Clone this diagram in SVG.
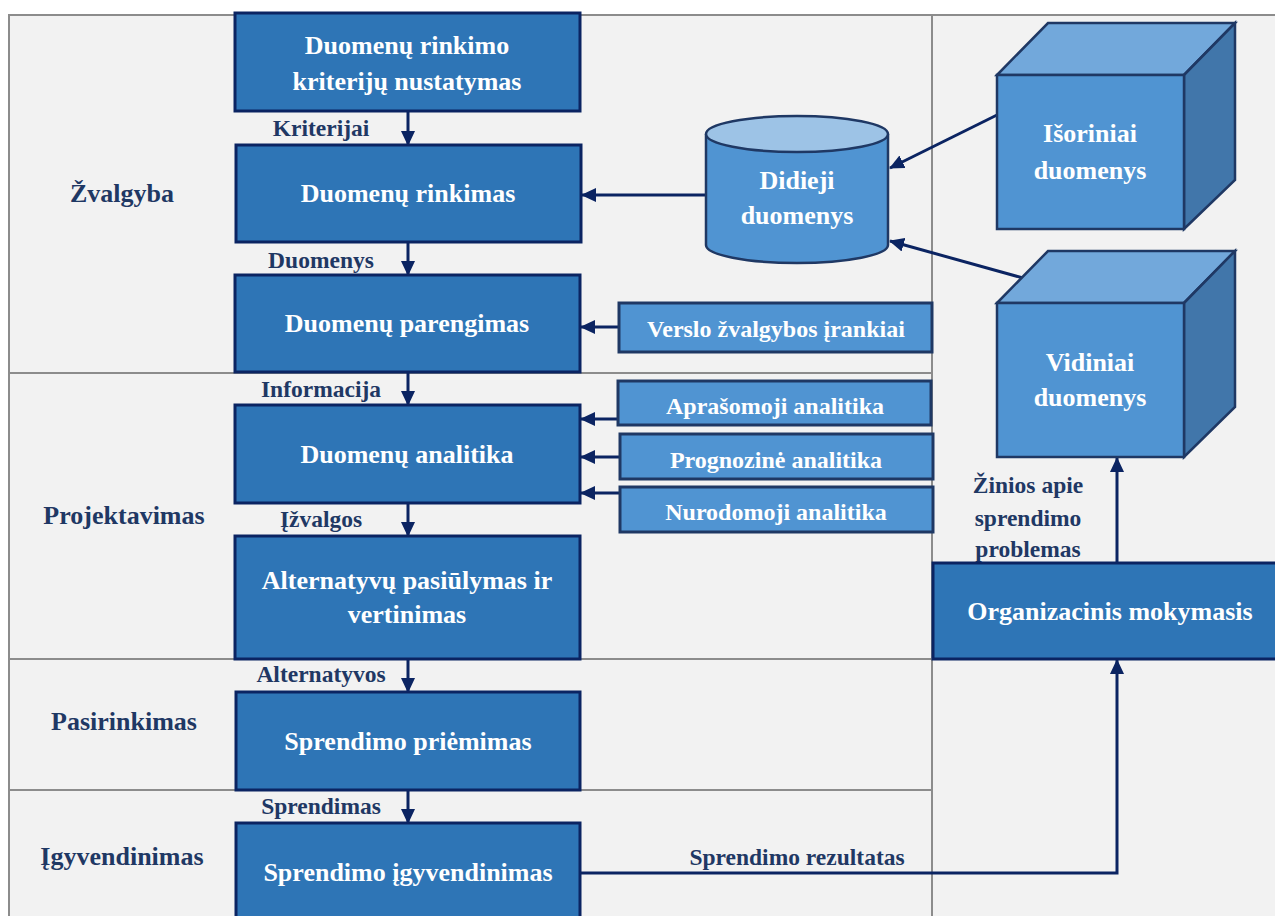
<svg xmlns="http://www.w3.org/2000/svg" width="1275" height="916" viewBox="0 0 1275 916">
<style>
text{font-family:"Liberation Serif","Times New Roman",serif;font-weight:bold;text-anchor:middle}
.wt{fill:#ffffff;font-size:26px}
.st{fill:#ffffff;font-size:24px}
.lb{fill:#1f3864;font-size:23.5px}
.ln{fill:#1f3864;font-size:26px}
.main{fill:#2e75b6;stroke:#0b2462;stroke-width:3}
.small{fill:#5094d2;stroke:#1f3864;stroke-width:3}
.cf{fill:#5094d2;stroke:#1f3864;stroke-width:2.5}
.ct{fill:#72a8db;stroke:#1f3864;stroke-width:2.5}
.cs{fill:#4176aa;stroke:#1f3864;stroke-width:2.5}
.con{stroke:#0b2462;stroke-width:3;fill:none}
.grid{stroke:#8c8c8c;stroke-width:2;fill:none}
</style>
<defs>
<marker id="ah" markerWidth="15" markerHeight="14" refX="14" refY="7" orient="auto" markerUnits="userSpaceOnUse">
<path d="M0,0 L15,7 L0,14 z" fill="#0b2462"/>
</marker>
</defs>
<rect x="0" y="0" width="1275" height="916" fill="#ffffff"/>
<g id="lanes">
<rect x="9" y="15" width="1266" height="901" fill="#f2f2f2"/>
<path class="grid" d="M9,916 V15 H1275"/>
<path class="grid" d="M9,373 H932 M9,659 H932 M9,790 H932 M932,15 V916"/>
<text class="ln" x="122" y="202">Žvalgyba</text>
<text class="ln" x="124" y="524">Projektavimas</text>
<text class="ln" x="124" y="730">Pasirinkimas</text>
<text class="ln" x="122" y="865">Įgyvendinimas</text>
</g>
<g id="connectors">
<line class="con" x1="408" y1="111" x2="408" y2="145" marker-end="url(#ah)"/>
<line class="con" x1="408" y1="242" x2="408" y2="275" marker-end="url(#ah)"/>
<line class="con" x1="408" y1="372" x2="408" y2="405" marker-end="url(#ah)"/>
<line class="con" x1="408" y1="503" x2="408" y2="536" marker-end="url(#ah)"/>
<line class="con" x1="408" y1="659" x2="408" y2="692" marker-end="url(#ah)"/>
<line class="con" x1="408" y1="790" x2="408" y2="823" marker-end="url(#ah)"/>
<line class="con" x1="706" y1="195" x2="582" y2="195" marker-end="url(#ah)"/>
<line class="con" x1="619" y1="327" x2="581" y2="327" marker-end="url(#ah)"/>
<line class="con" x1="618" y1="419" x2="581" y2="419" marker-end="url(#ah)"/>
<line class="con" x1="620" y1="457" x2="581" y2="457" marker-end="url(#ah)"/>
<line class="con" x1="620" y1="493" x2="581" y2="493" marker-end="url(#ah)"/>
<line class="con" x1="997" y1="115" x2="890" y2="168" marker-end="url(#ah)"/>
<line class="con" x1="1023" y1="278" x2="890" y2="241" marker-end="url(#ah)"/>
<line class="con" x1="1117" y1="563" x2="1117" y2="458" marker-end="url(#ah)"/>
<path class="con" d="M581,873 H1117 V660" stroke="#1f3864" marker-end="url(#ah)"/>
<text class="lb" x="321" y="136">Kriterijai</text>
<text class="lb" x="321" y="268">Duomenys</text>
<text class="lb" x="321" y="397">Informacija</text>
<text class="lb" x="321" y="527">Įžvalgos</text>
<text class="lb" x="321" y="682">Alternatyvos</text>
<text class="lb" x="321" y="814">Sprendimas</text>
<text class="lb" x="797" y="865">Sprendimo rezultatas</text>
<text class="lb" x="1028" y="493">Žinios apie</text>
<text class="lb" x="1028" y="526">sprendimo</text>
<text class="lb" x="1028" y="557">problemas</text>
</g>
<g id="n1"><rect class="main" x="235" y="13" width="345" height="98"/><text class="wt" x="407" y="54">Duomenų rinkimo</text><text class="wt" x="407" y="90">kriterijų nustatymas</text></g>
<g id="n2"><rect class="main" x="236" y="145" width="345" height="97"/><text class="wt" x="408" y="202">Duomenų rinkimas</text></g>
<g id="n3"><rect class="main" x="235" y="275" width="345" height="97"/><text class="wt" x="407" y="332">Duomenų parengimas</text></g>
<g id="n4"><rect class="main" x="235" y="405" width="345" height="98"/><text class="wt" x="407" y="463">Duomenų analitika</text></g>
<g id="n5"><rect class="main" x="235" y="536" width="345" height="123"/><text class="wt" x="407" y="589">Alternatyvų pasiūlymas ir</text><text class="wt" x="407" y="623">vertinimas</text></g>
<g id="n6"><rect class="main" x="236" y="692" width="344" height="98"/><text class="wt" x="408" y="750">Sprendimo priėmimas</text></g>
<g id="n7"><rect class="main" x="236" y="823" width="344" height="100"/><text class="wt" x="408" y="881">Sprendimo įgyvendinimas</text></g>
<g id="n8"><rect class="small" x="619" y="303" width="313" height="49"/><text class="st" x="776" y="337">Verslo žvalgybos įrankiai</text></g>
<g id="n9"><rect class="small" x="618" y="381" width="313" height="44"/><text class="st" x="775" y="414">Aprašomoji analitika</text></g>
<g id="n10"><rect class="small" x="620" y="434" width="313" height="45"/><text class="st" x="776" y="468">Prognozinė analitika</text></g>
<g id="n11"><rect class="small" x="620" y="487" width="313" height="45"/><text class="st" x="776" y="520">Nurodomoji analitika</text></g>
<g id="n12">
<path class="cf" d="M706,134 V245 A91,18 0 0 0 888,245 V134"/>
<ellipse cx="797" cy="134" rx="91" ry="18" fill="#9dc3e6" stroke="#1f3864" stroke-width="2.5"/>
<text class="wt" x="797" y="189">Didieji</text><text class="wt" x="797" y="224">duomenys</text>
</g>
<g id="n13">
<polygon class="ct" points="997,75 1048,23 1235,23 1184,75"/>
<polygon class="cs" points="1184,75 1235,23 1235,180 1184,229"/>
<rect class="cf" x="997" y="75" width="187" height="154"/>
<text class="wt" x="1090" y="142">Išoriniai</text><text class="wt" x="1090" y="179">duomenys</text>
</g>
<g id="n14">
<polygon class="ct" points="997,303 1048,251 1235,251 1184,303"/>
<polygon class="cs" points="1184,303 1235,251 1235,407 1184,457"/>
<rect class="cf" x="997" y="303" width="187" height="154"/>
<text class="wt" x="1090" y="371">Vidiniai</text><text class="wt" x="1090" y="406">duomenys</text>
</g>
<g id="n15"><rect class="main" x="933" y="563" width="350" height="96"/><text class="wt" x="1110" y="620">Organizacinis mokymasis</text></g>
</svg>
